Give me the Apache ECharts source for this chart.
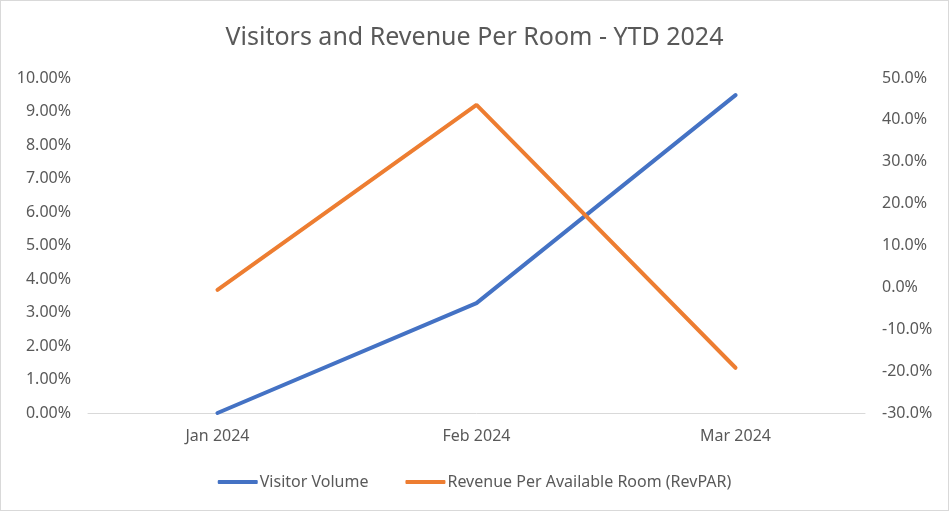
<!DOCTYPE html>
<html>
<head>
<meta charset="utf-8">
<script src="https://cdn.jsdelivr.net/npm/echarts@6/dist/echarts.min.js"></script>
<style>
  html, body { margin: 0; padding: 0; background: #fff; }
  #chart { width: 947px; height: 509px; border: 1px solid #d9d9d9; }
</style>
</head>
<body>
<div id="chart"></div>
<script>
const months = ['Jan 2024', 'Feb 2024', 'Mar 2024']
const visitorVolume = [0.0, 3.28, 9.49]
const revPar = [-0.6, 43.6, -19.2]
const leftTicks = { min: 0, max: 10, interval: 1 }
const rightTicks = { min: -30, max: 50, interval: 10 }

const labelColor = '#595959'
const font = 'Noto Sans'

const chart = echarts.init(document.getElementById('chart'))

chart.setOption({
  animation: false,
  textStyle: { fontFamily: font },
  title: {
    text: 'Visitors and Revenue Per Room - YTD 2024',
    left: 'center',
    top: 19,
    textStyle: { fontFamily: font, fontSize: 25, fontWeight: 'normal', color: labelColor },
  },
  legend: {
    bottom: 15,
    left: 'center',
    itemGap: 37,
    itemWidth: 40,
    itemHeight: 4,
    icon: 'roundRect',
    textStyle: { fontFamily: font, fontSize: 16, color: labelColor, padding: [0, 0, 0, -3] },
    data: ['Visitor Volume', 'Revenue Per Available Room (RevPAR)'],
  },
  grid: { left: 87, right: 83, top: 77, bottom: 97 },
  xAxis: {
    type: 'category',
    data: months,
    boundaryGap: true,
    axisLine: { lineStyle: { color: '#d9d9d9', width: 1 } },
    axisTick: { show: false },
    axisLabel: { color: labelColor, fontSize: 16, margin: 15 },
  },
  yAxis: [
    {
      type: 'value',
      ...leftTicks,
      position: 'left',
      splitLine: { show: false },
      axisLine: { show: false },
      axisTick: { show: false },
      axisLabel: {
        color: labelColor,
        fontSize: 16,
        margin: 17,
        formatter: v => v.toFixed(2) + '%',
      },
    },
    {
      type: 'value',
      ...rightTicks,
      position: 'right',
      splitLine: { show: false },
      axisLine: { show: false },
      axisTick: { show: false },
      axisLabel: {
        color: labelColor,
        fontSize: 16,
        margin: 17,
        formatter: v => v.toFixed(1) + '%',
      },
    },
  ],
  series: [
    {
      name: 'Visitor Volume',
      type: 'line',
      yAxisIndex: 0,
      data: visitorVolume,
      symbol: 'none',
      lineStyle: { color: '#4472c4', width: 4, cap: 'round' },
      itemStyle: { color: '#4472c4' },
    },
    {
      name: 'Revenue Per Available Room (RevPAR)',
      type: 'line',
      yAxisIndex: 1,
      data: revPar,
      symbol: 'none',
      lineStyle: { color: '#ed7d31', width: 4, cap: 'round' },
      itemStyle: { color: '#ed7d31' },
    },
  ],
})
</script>
</body>
</html>
